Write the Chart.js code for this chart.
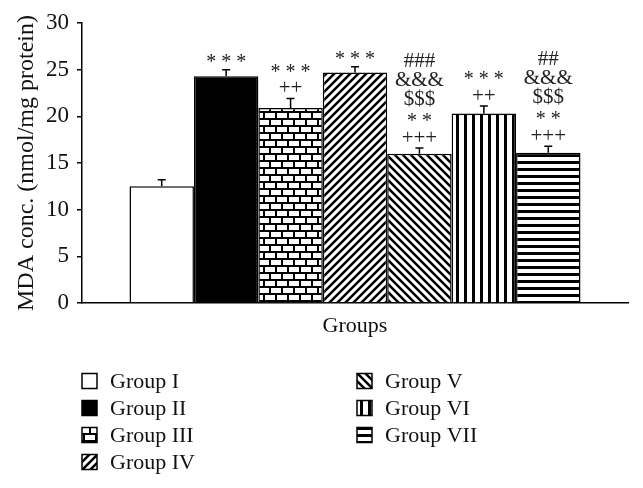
<!DOCTYPE html>
<html>
<head>
<meta charset="utf-8">
<script src="https://cdn.jsdelivr.net/npm/chart.js@4"></script>
<style>
  html, body { margin: 0; padding: 0; background: #fff; }
  #chart { display: block; }
</style>
</head>
<body>
<canvas id="chart" width="643" height="488"></canvas>
<script>
// Data
const groups = ["Group I", "Group II", "Group III", "Group IV", "Group V", "Group VI", "Group VII"];
const mdaMeans = [12.5, 24.3, 20.9, 24.7, 16.0, 20.3, 16.1];
const mdaErrors = [0.7, 0.7, 1.0, 0.6, 0.6, 0.8, 0.7];
const sigMarks = [
    [],
    ["* * *"],
    ["* * *", "++"],
    ["* * *"],
    ["###", "&&&", "$$$", "* *", "+++"],
    ["* * *", "++"],
    ["##", "&&&", "$$$", "* *", "+++"]
];
const yMin = 0, yMax = 30, yStep = 5;

const SERIF = '"Liberation Serif", "Times New Roman", serif';
const canvas = document.getElementById("chart");
const ctx = canvas.getContext("2d");

// little tiles for the hatch fills
function makePattern(w, h, draw) {
    const c = document.createElement("canvas");
    c.width = w; c.height = h;
    const g = c.getContext("2d");
    draw(g, w, h);
    return ctx.createPattern(c, "repeat");
}

const fills = [
    "#ffffff",
    "#000000",
    makePattern(12, 14, (g) => {           // bricks
        g.fillStyle = "#000"; g.fillRect(0, 0, 12, 14);
        g.fillStyle = "#fff";
        g.fillRect(1, 1, 10, 5);
        g.fillRect(7, 8, 10, 5);
        g.fillRect(-5, 8, 10, 5);
    }),
    makePattern(8, 8, (g) => {             // forward diagonal
        g.fillStyle = "#fff"; g.fillRect(0, 0, 8, 8);
        g.strokeStyle = "#000"; g.lineWidth = 2.5;
        g.beginPath();
        g.moveTo(0, 8); g.lineTo(8, 0);
        g.moveTo(-2, 2); g.lineTo(2, -2);
        g.moveTo(6, 10); g.lineTo(10, 6);
        g.stroke();
    }),
    makePattern(8, 8, (g) => {             // back diagonal
        g.fillStyle = "#fff"; g.fillRect(0, 0, 8, 8);
        g.strokeStyle = "#000"; g.lineWidth = 2.5;
        g.beginPath();
        g.moveTo(0, 0); g.lineTo(8, 8);
        g.moveTo(6, -2); g.lineTo(10, 2);
        g.moveTo(-2, 6); g.lineTo(2, 10);
        g.stroke();
    }),
    makePattern(8, 1, (g) => {             // vertical
        g.fillStyle = "#fff"; g.fillRect(0, 0, 8, 1);
        g.fillStyle = "#000"; g.fillRect(0, 0, 3, 1);
    }),
    makePattern(1, 7, (g) => {             // horizontal
        g.fillStyle = "#fff"; g.fillRect(0, 0, 1, 7);
        g.fillStyle = "#000"; g.fillRect(0, 0, 1, 3);
    })
];

// error bars + significance marks
const errorBarPlugin = {
    id: "errorBars",
    afterDatasetsDraw(chart) {
        const c = chart.ctx;
        const y = chart.scales.y;
        chart.data.datasets.forEach((ds, i) => {
            const bar = chart.getDatasetMeta(i).data[0];
            const top = y.getPixelForValue(mdaMeans[i] + mdaErrors[i]);
            c.save();
            c.strokeStyle = "#000";
            c.lineWidth = 1.5;
            c.beginPath();
            c.moveTo(bar.x, bar.y);
            c.lineTo(bar.x, top);
            c.moveTo(bar.x - 4, top);
            c.lineTo(bar.x + 4, top);
            c.stroke();

            c.fillStyle = "#222";
            c.textAlign = "center";
            c.textBaseline = "alphabetic";
            let cy = top - 12;
            const lines = sigMarks[i];
            for (let k = lines.length - 1; k >= 0; k--) {
                const t = lines[k];
                c.font = (t.indexOf("*") >= 0 ? "20px " : "21px ") + SERIF;
                const m = c.measureText(t);
                c.fillText(t, bar.x, cy + (m.actualBoundingBoxAscent - m.actualBoundingBoxDescent) / 2);
                cy -= 19;
            }
            c.restore();
        });
    }
};

// two-column legend under the axis title
const legendPlugin = {
    id: "groupLegend",
    afterDraw(chart) {
        const c = chart.ctx;
        c.save();
        c.font = "22px " + SERIF;
        c.textBaseline = "middle";
        groups.forEach((name, i) => {
            const col = i < 4 ? 0 : 1;
            const row = i < 4 ? i : i - 4;
            const bx = col === 0 ? 82 : 357;
            const cy = 381 + row * 27;
            c.fillStyle = fills[i];
            c.fillRect(bx, cy - 7.5, 15, 15);
            c.strokeStyle = "#000";
            c.lineWidth = 1.5;
            c.strokeRect(bx, cy - 7.5, 15, 15);
            c.fillStyle = "#111";
            c.fillText(name, bx + 28, cy + 1);
        });
        c.restore();
    }
};

new Chart(ctx, {
    type: "bar",
    data: {
        labels: ["Groups"],
        datasets: groups.map((g, i) => ({
            label: g,
            data: [mdaMeans[i]],
            backgroundColor: fills[i],
            borderColor: "#000",
            borderWidth: 1.5,
            barPercentage: 1.0,
            categoryPercentage: 0.826
        }))
    },
    options: {
        responsive: false,
        animation: false,
        layout: { padding: { left: 0, right: 15, top: 23, bottom: 145 } },
        plugins: {
            legend: { display: false },
            tooltip: { enabled: false }
        },
        scales: {
            x: {
                ticks: { display: false },
                grid: { display: false },
                border: { display: true, color: "#000", width: 1.5 },
                title: {
                    display: true,
                    text: "Groups",
                    color: "#111",
                    font: { family: SERIF, size: 22 },
                    padding: { top: 0, bottom: 4 }
                },
                afterFit(scale) { scale.height = 40; }
            },
            y: {
                min: yMin,
                max: yMax,
                ticks: {
                    stepSize: yStep,
                    color: "#111",
                    font: { family: SERIF, size: 23 },
                    padding: 8
                },
                grid: {
                    display: true,
                    drawOnChartArea: false,
                    drawTicks: true,
                    tickLength: 5,
                    color: "#000",
                    lineWidth: 1.5
                },
                border: { display: true, color: "#000", width: 1.5 },
                title: {
                    display: true,
                    text: "MDA conc. (nmol/mg protein)",
                    color: "#111",
                    font: { family: SERIF, size: 24 },
                    padding: { top: 12, bottom: 0 }
                },
                afterFit(scale) { scale.width = 82; }
            }
        }
    },
    plugins: [errorBarPlugin, legendPlugin]
});
</script>
</body>
</html>
